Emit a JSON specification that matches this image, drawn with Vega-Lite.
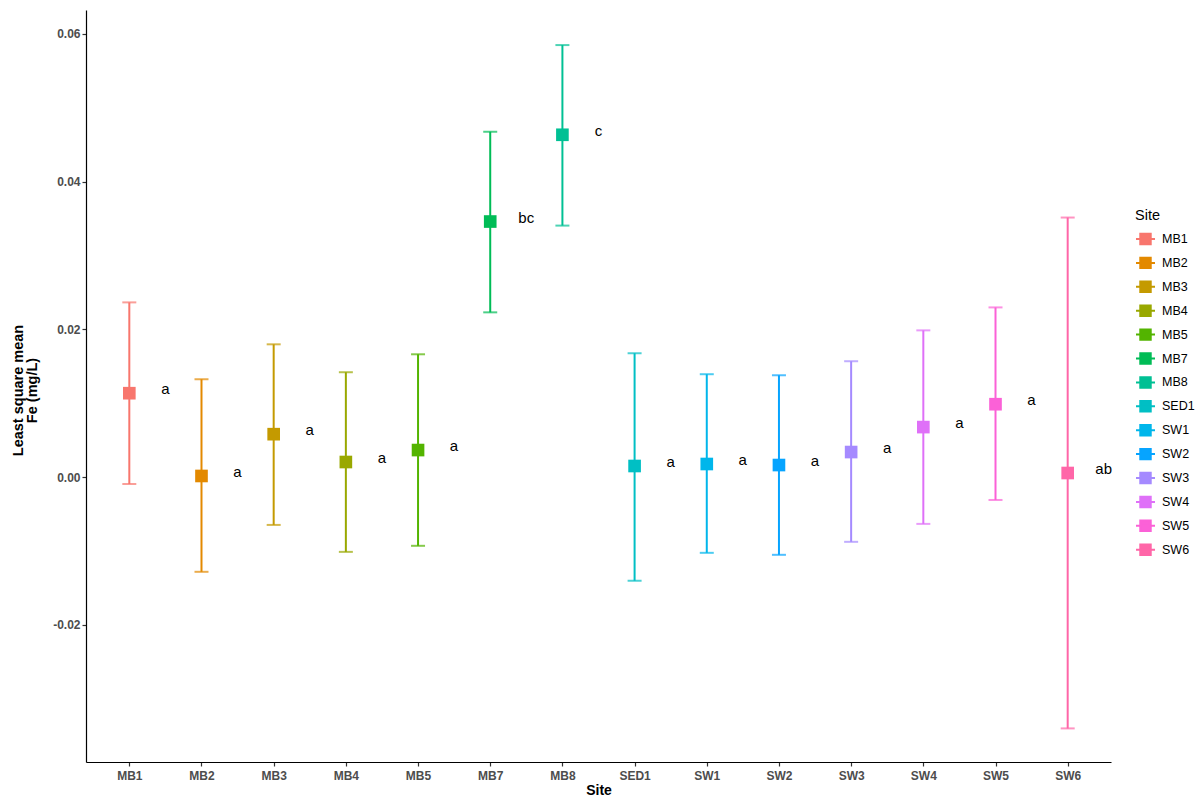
{
  "$schema": "https://vega.github.io/schema/vega-lite/v6.json",
  "width": 1025,
  "height": 752,
  "autosize": "none",
  "padding": {"left": 86, "top": 10, "right": 86, "bottom": 36},
  "background": "white",
  "config": {
    "view": {"stroke": null},
    "font": "Liberation Sans",
    "axis": {
      "grid": false,
      "domainColor": "black",
      "domainWidth": 1.2,
      "tickColor": "#333333",
      "tickSize": 4,
      "tickWidth": 1.2,
      "labelFont": "Liberation Sans",
      "labelFontWeight": "bold",
      "labelFontSize": 12,
      "labelColor": "#4D4D4D",
      "titleFont": "Liberation Sans",
      "titleFontWeight": "bold",
      "titleColor": "black"
    }
  },
  "data": {
    "values": [
      {"site": "MB1", "mean": 0.01135, "lower": -0.00095, "upper": 0.02365, "label": "a"},
      {"site": "MB2", "mean": 0.00014, "lower": -0.01284, "upper": 0.01324, "label": "a"},
      {"site": "MB3", "mean": 0.0058, "lower": -0.00649, "upper": 0.01797, "label": "a"},
      {"site": "MB4", "mean": 0.00203, "lower": -0.01014, "upper": 0.01419, "label": "a"},
      {"site": "MB5", "mean": 0.00365, "lower": -0.00932, "upper": 0.01662, "label": "a"},
      {"site": "MB7", "mean": 0.0346, "lower": 0.0223, "upper": 0.04676, "label": "bc"},
      {"site": "MB8", "mean": 0.04635, "lower": 0.03405, "upper": 0.0585, "label": "c"},
      {"site": "SED1", "mean": 0.00149, "lower": -0.01405, "upper": 0.01676, "label": "a"},
      {"site": "SW1", "mean": 0.00176, "lower": -0.01027, "upper": 0.01392, "label": "a"},
      {"site": "SW2", "mean": 0.00162, "lower": -0.01054, "upper": 0.01378, "label": "a"},
      {"site": "SW3", "mean": 0.00338, "lower": -0.00878, "upper": 0.01568, "label": "a"},
      {"site": "SW4", "mean": 0.00676, "lower": -0.00635, "upper": 0.01986, "label": "a"},
      {"site": "SW5", "mean": 0.00986, "lower": -0.00311, "upper": 0.02297, "label": "a"},
      {"site": "SW6", "mean": 0.00054, "lower": -0.03405, "upper": 0.03514, "label": "ab"}
    ]
  },
  "encoding": {
    "x": {
      "field": "site",
      "type": "nominal",
      "sort": null,
      "scale": {"type": "point", "padding": 0.6},
      "axis": {"title": "Site", "labelAngle": 0, "labelPadding": 4, "titleFontSize": 14, "titlePadding": 2}
    },
    "color": {
      "field": "site",
      "type": "nominal",
      "sort": null,
      "scale": {
        "range": ["#F8766D", "#E38900", "#C49A00", "#99A800", "#53B400", "#00BC56", "#00C094", "#00BFC4", "#00B6EB", "#06A4FF", "#A58AFF", "#DF70F8", "#FB61D7", "#FF66A8"]
      },
      "legend": {
        "title": "Site",
        "orient": "none",
        "legendX": 1049,
        "legendY": 199,
        "padding": 0,
        "titleFont": "Liberation Sans",
        "titleFontSize": 14.5,
        "titleFontWeight": "normal",
        "titleColor": "black",
        "titlePadding": 5,
        "labelFont": "Liberation Sans",
        "labelFontSize": 12.5,
        "labelColor": "black",
        "labelOffset": 6,
        "rowPadding": 3.9,
        "symbolType": "M-1,0L1,0M-0.55,-0.55L0.55,-0.55L0.55,0.55L-0.55,0.55Z",
        "symbolSize": 361,
        "symbolStrokeWidth": 2,
        "symbolOpacity": 1,
        "encode": {
          "symbols": {
            "update": {
              "fill": {"scale": "color", "field": "value"},
              "stroke": {"scale": "color", "field": "value"},
              "strokeWidth": {"value": 2},
              "opacity": {"value": 1}
            }
          }
        }
      }
    }
  },
  "layer": [
    {
      "mark": {"type": "rule", "strokeWidth": 2},
      "encoding": {
        "y": {
          "field": "lower",
          "type": "quantitative",
          "scale": {"domain": [-0.0386, 0.06325], "nice": false, "zero": false},
          "axis": {
            "title": ["Least square mean", "Fe (mg/L)"],
            "values": [-0.02, 0, 0.02, 0.04, 0.06],
            "labelExpr": "replace(format(datum.value, '.2f'), '\u2212', '-')",
            "labelPadding": 2,
            "titleFontSize": 14.5,
            "titleLineHeight": 14,
            "titleX": -61,
            "titleY": 380,
            "titleAlign": "center",
            "titleBaseline": "bottom",
            "titleAngle": 270
          }
        },
        "y2": {"field": "upper"}
      }
    },
    {
      "mark": {"type": "tick", "thickness": 2, "size": 14},
      "encoding": {"y": {"field": "lower", "type": "quantitative"}}
    },
    {
      "mark": {"type": "tick", "thickness": 2, "size": 14},
      "encoding": {"y": {"field": "upper", "type": "quantitative"}}
    },
    {
      "mark": {"type": "point", "shape": "square", "filled": true, "size": 160, "opacity": 1},
      "encoding": {"y": {"field": "mean", "type": "quantitative"}}
    },
    {
      "mark": {"type": "text", "fontSize": 15, "font": "Liberation Sans", "dx": 36, "dy": 1, "baseline": "alphabetic", "align": "center"},
      "encoding": {
        "y": {"field": "mean", "type": "quantitative"},
        "text": {"field": "label"},
        "color": {"value": "black"}
      }
    }
  ]
}
